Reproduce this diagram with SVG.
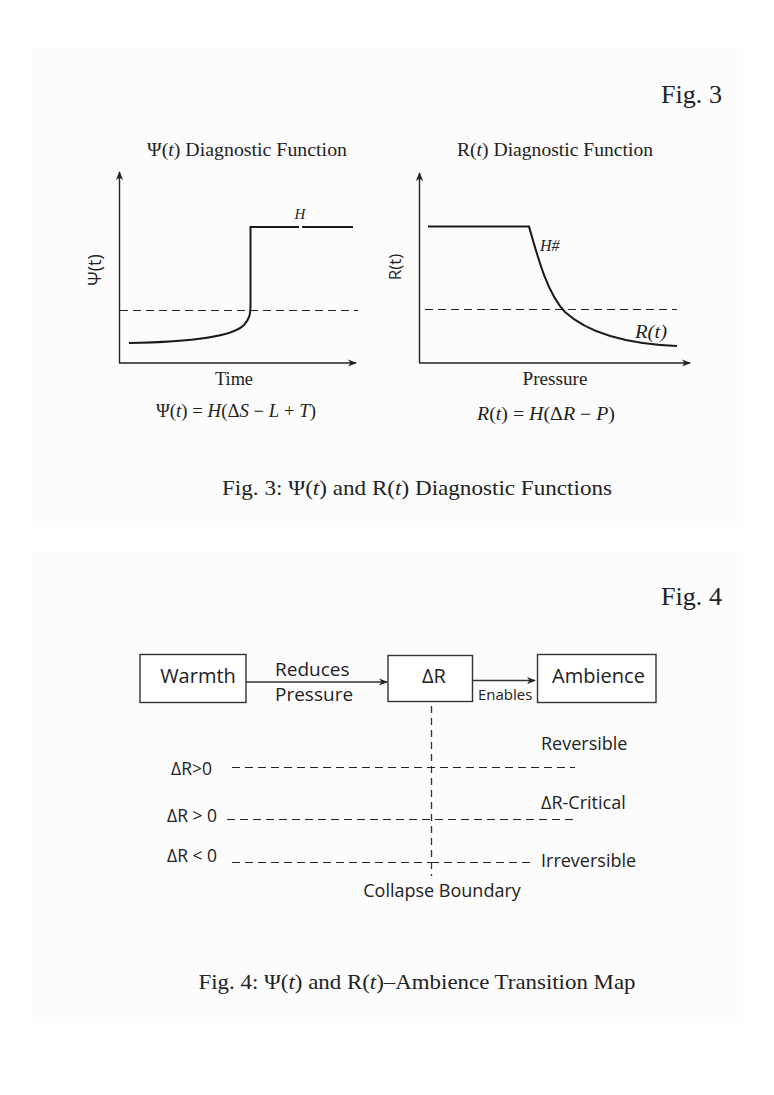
<svg xmlns="http://www.w3.org/2000/svg" width="774" height="1095" viewBox="0 0 774 1095">
<defs>
<marker id="ah" viewBox="0 0 10 10" refX="9" refY="5" markerWidth="9" markerHeight="9" markerUnits="userSpaceOnUse" orient="auto">
<path d="M0,1 L10,5 L0,9 L3,5 Z" fill="#222"/>
</marker>
<style>
.serif{font-family:"Liberation Serif","DejaVu Serif",serif;fill:#222}
.sans{font-family:"Open Sans","Noto Sans","DejaVu Sans",sans-serif;fill:#222}
.ax{stroke:#222;stroke-width:1.4;fill:none}
.cv{stroke:#1a1a1a;stroke-width:2;fill:none}
.dash{stroke:#222;stroke-width:1.2;stroke-dasharray:8 5;fill:none}
.box{fill:#fff;stroke:#333;stroke-width:1.4}
.conn{stroke:#333;stroke-width:1.3;fill:none}
</style>
</defs>
<rect x="0" y="0" width="774" height="1095" fill="#fff"/>
<rect x="32" y="48" width="711" height="479" fill="#fcfcfc"/>
<rect x="32" y="552" width="711" height="471" fill="#fcfcfc"/>

<g id="fig3">
<text class="serif" x="722" y="103" font-size="26" text-anchor="end" textLength="61" lengthAdjust="spacingAndGlyphs">Fig. 3</text>
<g id="psi-plot">
<text class="serif" x="247" y="156" font-size="18.5" text-anchor="middle" textLength="200" lengthAdjust="spacingAndGlyphs">Ψ(<tspan font-style="italic">t</tspan>) Diagnostic Function</text>
<line class="ax" x1="119.5" y1="363" x2="119.5" y2="172" marker-end="url(#ah)"/>
<line class="ax" x1="119" y1="363" x2="356" y2="363" marker-end="url(#ah)"/>
<line class="dash" x1="120" y1="310.5" x2="358" y2="310.5"/>
<path class="cv" d="M129,343 C190,342 232,337 244,325 C249.5,319 250.5,314 250.5,305 L250.5,227 L299,227 M302,227 L353,227"/>
<text class="serif" x="300" y="219" font-size="15" font-style="italic" text-anchor="middle">H</text>
<text class="sans" transform="translate(101,270) rotate(-90)" font-size="18" text-anchor="middle">Ψ(t)</text>
<text class="serif" x="234" y="385" font-size="18" text-anchor="middle" textLength="38" lengthAdjust="spacingAndGlyphs">Time</text>
<text class="serif" x="236" y="417" font-size="18" text-anchor="middle" textLength="160" lengthAdjust="spacingAndGlyphs">Ψ(<tspan font-style="italic">t</tspan>) = <tspan font-style="italic">H</tspan>(Δ<tspan font-style="italic">S</tspan> − <tspan font-style="italic">L</tspan> + <tspan font-style="italic">T</tspan>)</text>
</g>
<g id="r-plot">
<text class="serif" x="555" y="156" font-size="18.5" text-anchor="middle" textLength="196" lengthAdjust="spacingAndGlyphs">R(<tspan font-style="italic">t</tspan>) Diagnostic Function</text>
<line class="ax" x1="419.5" y1="363" x2="419.5" y2="173" marker-end="url(#ah)"/>
<line class="ax" x1="419" y1="363" x2="690" y2="363" marker-end="url(#ah)"/>
<line class="dash" x1="425" y1="309.5" x2="677" y2="309.5"/>
<path class="cv" d="M428,226.5 L529,226.5 C539,262 548,294 565,312 C590,335 630,344 677,346"/>
<text class="serif" x="540" y="251" font-size="16" font-style="italic">H#</text>
<text class="serif" x="635" y="338" font-size="18" font-style="italic" textLength="32" lengthAdjust="spacingAndGlyphs">R(t)</text>
<text class="sans" transform="translate(401,267) rotate(-90)" font-size="17" text-anchor="middle">R(t)</text>
<text class="serif" x="555" y="385" font-size="18" text-anchor="middle" textLength="65" lengthAdjust="spacingAndGlyphs">Pressure</text>
<text class="serif" x="546" y="420" font-size="18" text-anchor="middle" textLength="138" lengthAdjust="spacingAndGlyphs"><tspan font-style="italic">R</tspan>(<tspan font-style="italic">t</tspan>) = <tspan font-style="italic">H</tspan>(Δ<tspan font-style="italic">R</tspan> −  <tspan font-style="italic">P</tspan>)</text>
</g>
<text class="serif" x="417" y="495" font-size="21" text-anchor="middle" textLength="390" lengthAdjust="spacingAndGlyphs">Fig.  3:  Ψ(<tspan font-style="italic">t</tspan>) and R(<tspan font-style="italic">t</tspan>) Diagnostic Functions</text>
</g>

<g id="fig4">
<text class="serif" x="722" y="605" font-size="26" text-anchor="end" textLength="61" lengthAdjust="spacingAndGlyphs">Fig. 4</text>
<g id="connectors">
<line class="conn" x1="246" y1="682" x2="387" y2="682" marker-end="url(#ah)"/>
<line class="conn" x1="473" y1="680.5" x2="535" y2="680.5" marker-end="url(#ah)"/>
<line class="conn" x1="431.5" y1="706" x2="431.5" y2="876" stroke-dasharray="7 5"/>
<line class="dash" x1="232" y1="767.5" x2="575" y2="767.5"/>
<line class="dash" x1="227" y1="819.5" x2="575" y2="819.5"/>
<line class="dash" x1="232" y1="862.5" x2="431" y2="862.5"/>
<line class="dash" x1="431" y1="862.5" x2="530" y2="862.5" stroke="#888"/>
</g>
<g id="warmth">
<rect class="box" x="140" y="654.5" width="106" height="48"/>
<text class="sans" x="198" y="683" font-size="20" text-anchor="middle">Warmth</text>
</g>
<g id="delta-r">
<rect class="box" x="388" y="655.5" width="84.5" height="46"/>
<text class="sans" x="434" y="683" font-size="20" text-anchor="middle">ΔR</text>
</g>
<g id="ambience">
<rect class="box" x="537.5" y="654.5" width="118.5" height="48"/>
<text class="sans" x="598.5" y="683" font-size="20" text-anchor="middle">Ambience</text>
</g>
<text class="sans" x="275" y="676" font-size="19">Reduces</text>
<text class="sans" x="275" y="701" font-size="19">Pressure</text>
<text class="sans" x="478" y="700" font-size="15">Enables</text>
<text class="sans" x="171" y="775" font-size="17.5">ΔR&gt;0</text>
<text class="sans" x="167" y="822" font-size="17.5">ΔR &gt; 0</text>
<text class="sans" x="167" y="862" font-size="17.5">ΔR &lt; 0</text>
<text class="sans" x="541" y="750" font-size="18">Reversible</text>
<text class="sans" x="541" y="809" font-size="18">ΔR-Critical</text>
<text class="sans" x="541" y="867" font-size="18">Irreversible</text>
<text class="sans" x="442" y="897" font-size="18" text-anchor="middle">Collapse Boundary</text>
<text class="serif" x="417" y="989" font-size="21" text-anchor="middle" textLength="437" lengthAdjust="spacingAndGlyphs">Fig. 4:  Ψ(<tspan font-style="italic">t</tspan>) and R(<tspan font-style="italic">t</tspan>)–Ambience Transition Map</text>
</g>
</svg>
